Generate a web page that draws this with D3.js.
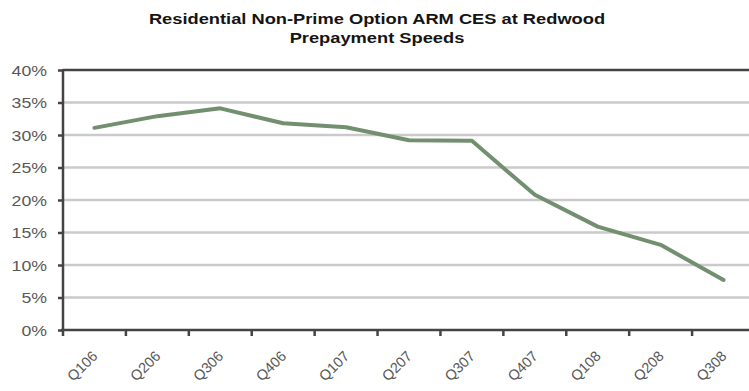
<!DOCTYPE html>
<html>
<head>
<meta charset="utf-8">
<script src="https://cdn.jsdelivr.net/npm/d3@7"></script>
<style>
  html, body { margin: 0; padding: 0; background: #fff; }
  svg { display: block; }
</style>
</head>
<body>
<svg id="chart" width="749" height="391"></svg>
<script>
// Quarterly prepayment speeds (CPR, %)
const quarters = ["Q106", "Q206", "Q306", "Q406", "Q107", "Q207", "Q307", "Q407", "Q108", "Q208", "Q308"];
const speeds = [31.1, 32.9, 34.1, 31.8, 31.2, 29.2, 29.1, 20.8, 15.9, 13.1, 7.7];
const yTicks = [0, 5, 10, 15, 20, 25, 30, 35, 40];
const titleLines = ["Residential Non-Prime Option ARM CES at Redwood", "Prepayment Speeds"];

const svg = d3.select("#chart");
const font = "'Liberation Sans', Arial, sans-serif";
const stretch = 1.18; // wide glyph proportions

const plot = { left: 63, right: 755, top: 70, bottom: 330 };

const x = d3.scaleBand().domain(quarters).range([plot.left, plot.right]).padding(0);
const y = d3.scaleLinear().domain([0, 40]).range([plot.bottom, plot.top]);

// Title
const title = svg.append("g");
titleLines.forEach((t, i) => {
  title.append("text")
    .attr("transform", `translate(377,${24 + i * 19}) scale(${stretch},1)`)
    .attr("text-anchor", "middle")
    .attr("font-family", font)
    .attr("font-weight", "bold")
    .attr("font-size", 15.5)
    .attr("fill", "#141414")
    .text(t);
});

// Horizontal gridlines
svg.append("g")
  .selectAll("line")
  .data(yTicks.filter(v => v > 0 && v < 40))
  .join("line")
  .attr("x1", plot.left).attr("x2", plot.right)
  .attr("y1", d => y(d)).attr("y2", d => y(d))
  .attr("stroke", "#cacaca")
  .attr("stroke-width", 2.5);

// Top border
svg.append("line")
  .attr("x1", plot.left).attr("x2", plot.right)
  .attr("y1", y(40)).attr("y2", y(40))
  .attr("stroke", "#444")
  .attr("stroke-width", 2.5);

// Y axis
const yAxis = svg.append("g")
  .attr("transform", `translate(${plot.left},0)`)
  .call(d3.axisLeft(y).tickValues(yTicks).tickSize(5).tickPadding(0).tickFormat(d => d + "%"));
yAxis.select(".domain").attr("stroke", "#444").attr("stroke-width", 2.5)
  .attr("d", `M0,${plot.top - 1}V${plot.bottom}`);
yAxis.selectAll(".tick line").attr("stroke", "#444").attr("stroke-width", 2.5);
yAxis.selectAll(".tick text")
  .attr("x", 0)
  .attr("dy", null)
  .attr("dominant-baseline", "central")
  .attr("transform", `translate(-16,0) scale(${stretch},1)`)
  .attr("font-family", font)
  .attr("font-size", 15)
  .attr("fill", "#595959");

// X axis: ticks at category boundaries
const boundaries = quarters.map(q => x(q)).concat([plot.right]);
const xAxisG = svg.append("g");
xAxisG.append("line")
  .attr("x1", plot.left - 2).attr("x2", plot.right)
  .attr("y1", plot.bottom).attr("y2", plot.bottom)
  .attr("stroke", "#444").attr("stroke-width", 2.5);
xAxisG.selectAll("line.tk")
  .data(boundaries)
  .join("line")
  .attr("class", "tk")
  .attr("x1", d => d).attr("x2", d => d)
  .attr("y1", plot.bottom).attr("y2", plot.bottom + 6)
  .attr("stroke", "#444").attr("stroke-width", 2.5);
xAxisG.selectAll("text")
  .data(quarters)
  .join("text")
  .attr("transform", d => `translate(${x(d) + x.bandwidth() / 2 + 4},${plot.bottom + 27}) rotate(-45)`)
  .attr("text-anchor", "end")
  .attr("font-family", font)
  .attr("font-size", 14.5)
  .attr("fill", "#595959")
  .text(d => d);

// Series line
const line = d3.line()
  .x((d, i) => x(quarters[i]) + x.bandwidth() / 2)
  .y(d => y(d));
svg.append("path")
  .datum(speeds)
  .attr("d", line)
  .attr("fill", "none")
  .attr("stroke", "#72906f")
  .attr("stroke-width", 4)
  .attr("stroke-linejoin", "round")
  .attr("stroke-linecap", "round");
</script>
</body>
</html>
